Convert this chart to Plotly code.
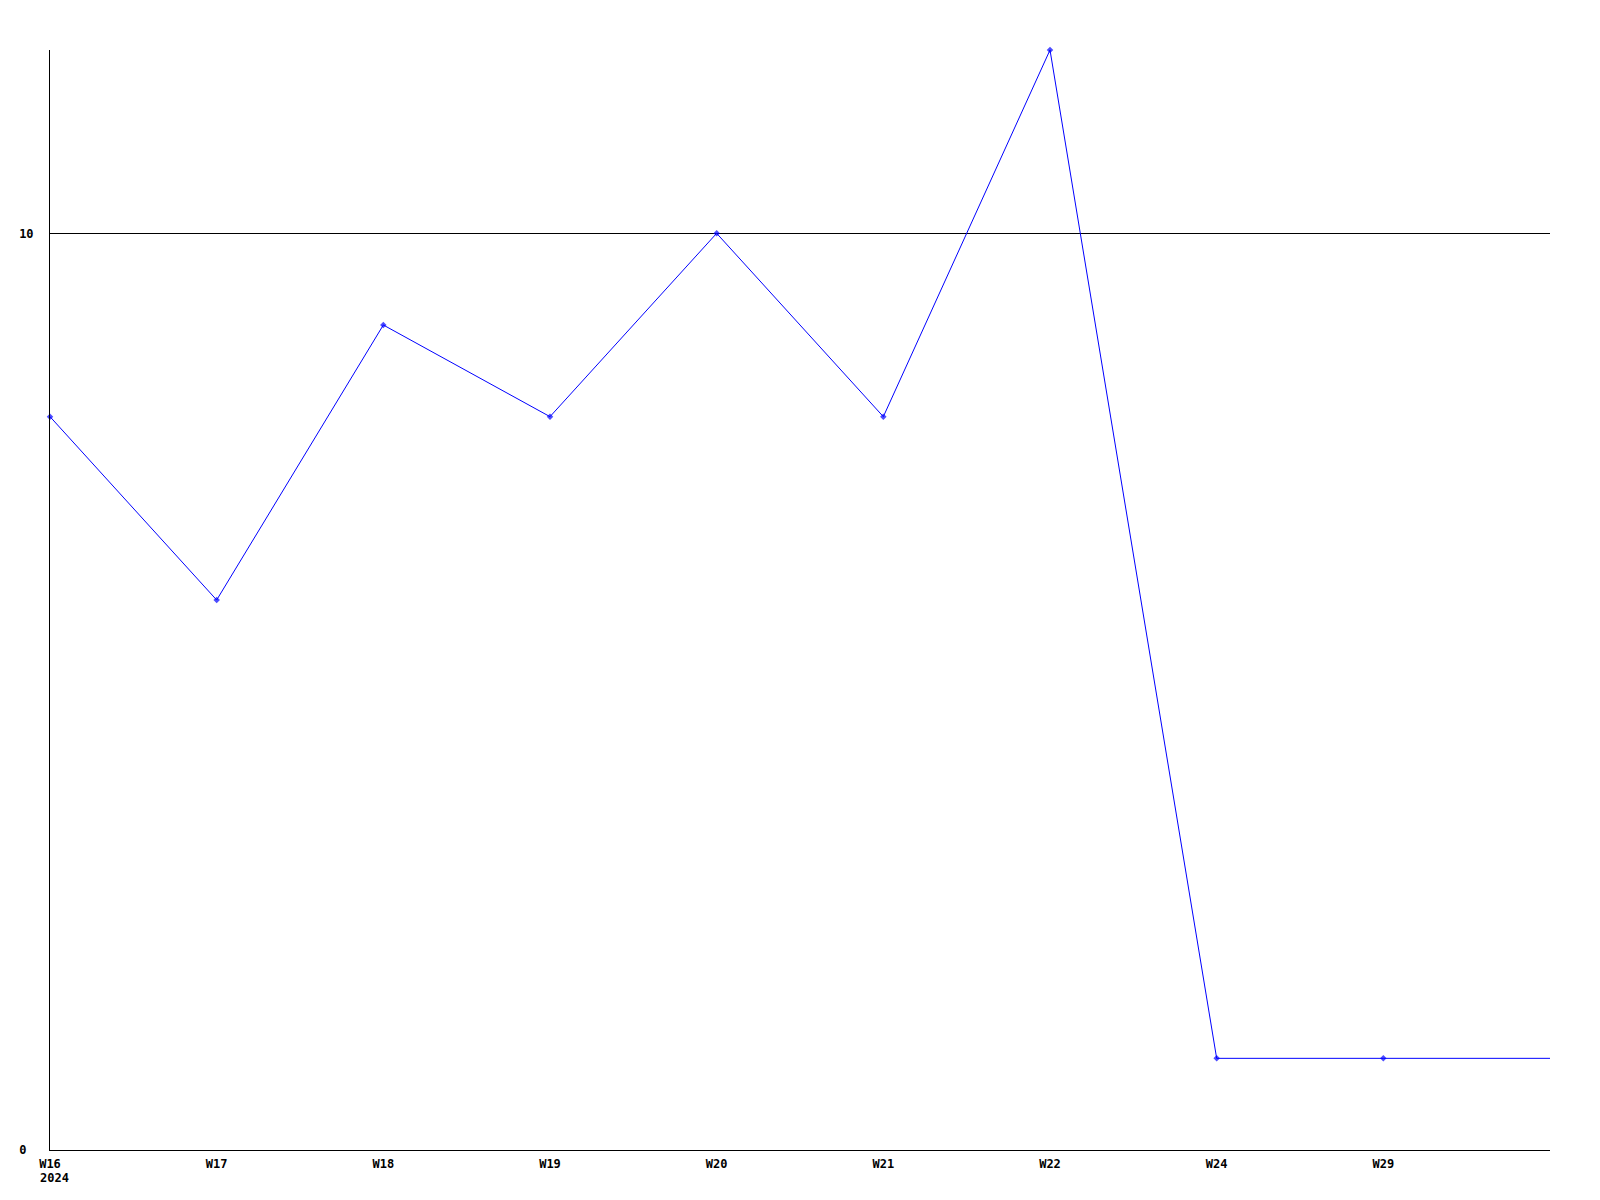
import plotly.graph_objects as go

weeks = ["W16", "W17", "W18", "W19", "W20", "W21", "W22", "W24", "W29", ""]
values = [8, 6, 9, 8, 10, 8, 12, 1, 1, 1]
y_tick_values = [0, 10]
y_tick_labels = ["0\u00a0", "10"]
year_label = "2024"

xs = list(range(len(weeks)))
marker_sizes = [5] * (len(weeks) - 1) + [0]

fig = go.Figure()
fig.add_trace(go.Scatter(
    x=xs, y=values, mode="lines+markers",
    line=dict(color="#0000FF", width=1),
    marker=dict(symbol="diamond", size=marker_sizes, color="#0000FF",
                line=dict(width=0)),
    showlegend=False, hoverinfo="skip", cliponaxis=False,
))

font = dict(family="DejaVu Sans Mono", size=12, color="black", weight="bold")

fig.update_layout(
    width=1600, height=1200,
    margin=dict(l=42, r=58, t=42, b=58, pad=0, autoexpand=False),
    paper_bgcolor="white", plot_bgcolor="white",
    font=font,
    xaxis=dict(
        range=[0, len(weeks) - 1],
        tickvals=xs[:-1], ticktext=weeks[:-1],
        showgrid=False, zeroline=False,
        showline=True, linecolor="black", linewidth=1,
        ticks="", ticklabelstandoff=3, automargin=False,
        tickfont=font,
    ),
    yaxis=dict(
        range=[0, 12], tickvals=y_tick_values, ticktext=y_tick_labels,
        showgrid=True, gridcolor="black", gridwidth=1,
        zeroline=False,
        showline=True, linecolor="black", linewidth=1,
        ticks="", ticklabelstandoff=13, automargin=False,
        tickfont=font,
    ),
    annotations=[dict(
        x=0, y=0, xref="x", yref="paper", text=year_label,
        showarrow=False, xanchor="left", yanchor="top",
        xshift=-12, yshift=-19, font=font,
    )],
)

fig.write_html("out.html")
